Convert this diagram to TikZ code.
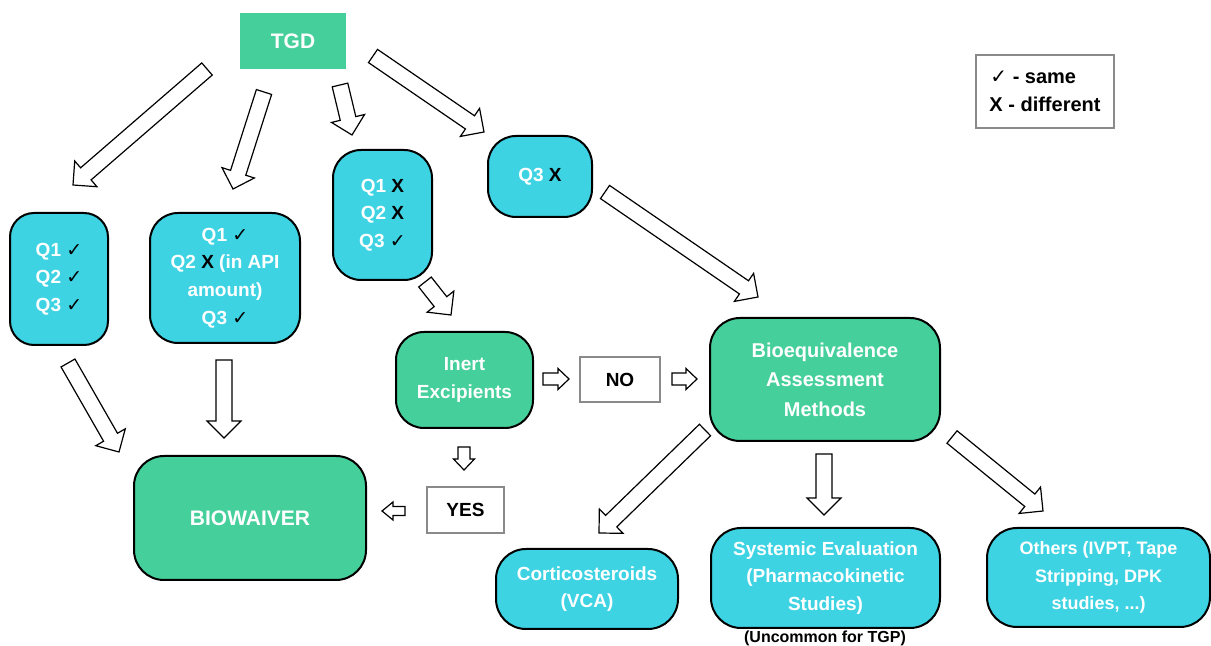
\documentclass[tikz,border=0pt]{standalone}
\usepackage{fontspec}
\setmainfont{Liberation Sans}
\newfontfamily\symfont{DejaVu Sans}
\usetikzlibrary{calc}

\definecolor{mint}{HTML}{45CF9B}
\definecolor{aqua}{HTML}{3DD3E3}
\definecolor{frame}{HTML}{8A8A8A}

% black marks inside the white box texts
\newcommand\okmark{{\symfont\color{black}✓}}
\newcommand\xmark{{\color{black}X}}

\tikzset{
  box/.style={draw=black, line width=1pt, align=center, text=white, inner sep=0pt,
    font=\fontsize{9.5}{13.8}\selectfont\bfseries},
  greenbox/.style={box, fill=mint},
  cyanbox/.style={box, fill=aqua},
  plainbox/.style={draw=frame, line width=0.6pt, fill=white, text=black, inner sep=0pt,
    font=\fontsize{9.5}{14}\selectfont\bfseries},
  blk/.style={draw=black, fill=white, line width=0.6pt, line join=miter},
}

% hollow block arrow: #1 tail, #2 tip, #3 half shaft width, #4 half head width, #5 head length (pt)
\newcommand\blockarrow[5]{%
  \coordinate (hb) at ($(#2)!#5pt!(#1)$);
  \draw[blk] ($(#1)!#3pt!90:(#2)$) -- ($(hb)!#3pt!90:(#2)$) -- ($(hb)!#4pt!90:(#2)$)
    -- (#2) -- ($(hb)!#4pt!-90:(#2)$) -- ($(hb)!#3pt!-90:(#2)$)
    -- ($(#1)!#3pt!-90:(#2)$) -- cycle;
}

\begin{document}
\begin{tikzpicture}[x=0.5pt, y=-0.5pt]
\useasboundingbox (0,0) rectangle (1211,646);

% top node and legend
\node[box, draw=none, fill=mint, minimum width=53pt, minimum height=28pt,
  font=\fontsize{10.5}{12}\selectfont\bfseries] (tgd) at (293,41) {TGD};
\node[plainbox, align=left, minimum width=69pt, minimum height=36.5pt,
  font=\fontsize{10}{14}\selectfont\bfseries] (legend) at (1045,91.5)
  {\hspace{0.5pt}{\symfont\bfseries ✓} - same\\X - different};

% Q1/Q2/Q3 comparison boxes
\node[cyanbox, minimum width=49pt, minimum height=66pt, rounded corners=12pt] (q1)
  at (59,279) {Q1 \okmark\\Q2 \okmark\\Q3 \okmark};
\node[cyanbox, minimum width=75pt, minimum height=65pt, rounded corners=14pt] (q2)
  at (225,278) {Q1 \okmark\\Q2 \xmark{} (in API\\amount)\\Q3 \okmark};
\node[cyanbox, minimum width=49.5pt, minimum height=65pt, rounded corners=14pt] (q3)
  at (382.5,215) {Q1 \xmark\\Q2 \xmark\\Q3 \okmark};
\node[cyanbox, minimum width=52pt, minimum height=40.5pt, rounded corners=14pt] (q4)
  at (540,176.5) {Q3 \xmark};

% decision nodes
\node[greenbox, minimum width=68.5pt, minimum height=48pt, rounded corners=14pt] (inert)
  at (464.5,380) {Inert\\Excipients};
\node[plainbox, minimum width=40pt, minimum height=22.5pt] (no) at (620,379.5) {NO};
\node[plainbox, minimum width=38.5pt, minimum height=23pt] (yes) at (465.5,510) {YES};
\node[greenbox, minimum width=115pt, minimum height=61.5pt, rounded corners=15pt,
  font=\fontsize{10}{14.8}\selectfont\bfseries] (be)
  at (825,379.5) {Bioequivalence\\Assessment\\Methods};
\node[greenbox, minimum width=116pt, minimum height=62pt, rounded corners=15pt,
  font=\fontsize{10.5}{12}\selectfont\bfseries] (bio) at (250,518) {BIOWAIVER};

% assessment methods
\node[cyanbox, minimum width=91pt, minimum height=40pt, rounded corners=15pt] (cort)
  at (587,589) {Corticosteroids\\(VCA)};
\node[cyanbox, minimum width=114.5pt, minimum height=50pt, rounded corners=15pt] (sys)
  at (825.5,578) {Systemic Evaluation\\(Pharmacokinetic\\Studies)};
\node[cyanbox, minimum width=111.5pt, minimum height=49.5pt, rounded corners=15pt,
  font=\fontsize{9}{13.6}\selectfont\bfseries] (oth)
  at (1098.5,577.5) {Others (IVPT, Tape\\Stripping, DPK\\studies, ...)};
\node[text=black, font=\fontsize{8}{10}\selectfont\bfseries, inner sep=0pt] (note)
  at (825,638) {(Uncommon for TGP)};

% arrow ends
\coordinate (a1s) at (207,69);   \coordinate (a1e) at (73,185);
\coordinate (a2s) at (264,92);   \coordinate (a2e) at (233,189);
\coordinate (a3s) at (340,85);   \coordinate (a3e) at (352,135);
\coordinate (a4s) at (373,56);   \coordinate (a4e) at (484,132);
\coordinate (a5s) at (425,282);  \coordinate (a5e) at (451,315);
\coordinate (a6s) at (605,192);  \coordinate (a6e) at (758,297);
\coordinate (a7s) at (68,363);   \coordinate (a7e) at (119,452);
\coordinate (a8s) at (224,360);  \coordinate (a8e) at (224,438);
\coordinate (b1s) at (705,430);  \coordinate (b1e) at (599,533);
\coordinate (b2s) at (824,454);  \coordinate (b2e) at (824,515);
\coordinate (b3s) at (952,437);  \coordinate (b3e) at (1043,511);
\coordinate (s1s) at (543,379);  \coordinate (s1e) at (569,379);
\coordinate (s2s) at (672,379);  \coordinate (s2e) at (697,379);
\coordinate (s3s) at (464,447);  \coordinate (s3e) at (464,470);
\coordinate (s4s) at (405,511);  \coordinate (s4e) at (382,511);

% large hollow arrows
\blockarrow{a1s}{a1e}{4}{8.5}{8.5}
\blockarrow{a2s}{a2e}{4}{8.5}{8.5}
\blockarrow{a3s}{a3e}{4}{8.5}{8.5}
\blockarrow{a4s}{a4e}{4}{8.5}{8.5}
\blockarrow{a5s}{a5e}{4}{8.5}{8.5}
\blockarrow{a6s}{a6e}{4}{8.5}{8.5}
\blockarrow{a7s}{a7e}{4}{8.5}{8.5}
\blockarrow{a8s}{a8e}{4}{8.5}{8.5}
\blockarrow{b1s}{b1e}{4}{8.5}{8.5}
\blockarrow{b2s}{b2e}{4}{8.5}{8.5}
\blockarrow{b3s}{b3e}{4}{8.5}{8.5}

% small hollow arrows around the decision
\blockarrow{s1s}{s1e}{3}{5.25}{5.5}
\blockarrow{s2s}{s2e}{3}{5.25}{5.5}
\blockarrow{s3s}{s3e}{3}{5.25}{5.5}
\blockarrow{s4s}{s4e}{2.25}{4.5}{5.5}
\end{tikzpicture}
\end{document}
